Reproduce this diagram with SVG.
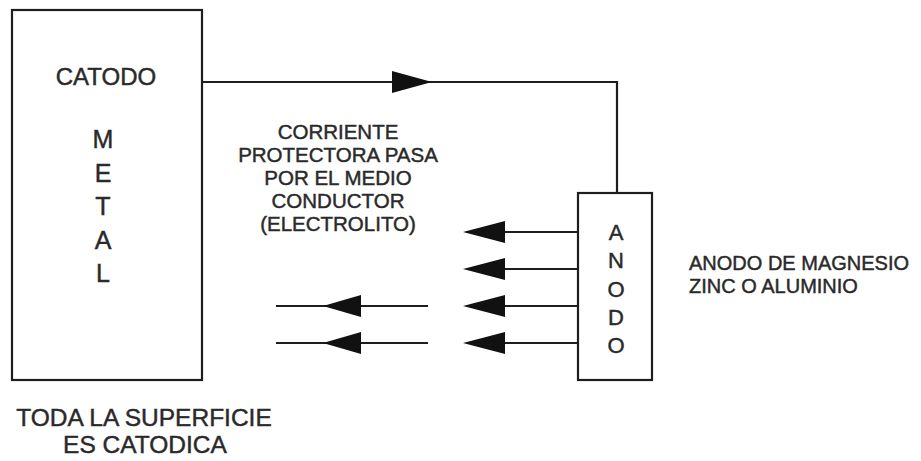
<svg xmlns="http://www.w3.org/2000/svg" width="921" height="461" viewBox="0 0 921 461">
<style>
.box{fill:none;stroke:#1e1e1e;stroke-width:2.2}
.ln{fill:none;stroke:#1e1e1e;stroke-width:2.2}
.ah{fill:#111;stroke:none}
text{font-family:"Liberation Sans",Arial,sans-serif;fill:#2a2a2a;stroke:#2a2a2a;stroke-width:0.45}
.t22{font-size:22px}
.t20{font-size:20px}
.tm{font-size:20.5px}
.t24{font-size:24px}
.t25{font-size:25px}
</style>
<rect width="921" height="461" fill="#ffffff"/>
<g id="catodo">
<rect class="box" x="12" y="10" width="190" height="370"/>
<text class="t24" x="106" y="85" text-anchor="middle">CATODO</text>
<text class="t25" text-anchor="middle"><tspan x="103" y="148">M</tspan><tspan x="103" y="181.5">E</tspan><tspan x="103" y="215">T</tspan><tspan x="103" y="248.5">A</tspan><tspan x="103" y="282">L</tspan></text>
</g>
<g id="anodo">
<rect class="box" x="578" y="193" width="74" height="187"/>
<text class="t22" text-anchor="middle"><tspan x="616" y="240">A</tspan><tspan x="616" y="268">N</tspan><tspan x="616" y="297">O</tspan><tspan x="616" y="325">D</tspan><tspan x="616" y="353">O</tspan></text>
</g>
<g id="label-corriente">
<text class="tm" text-anchor="middle"><tspan x="338" y="139">CORRIENTE</tspan><tspan x="338" y="162">PROTECTORA PASA</tspan><tspan x="338" y="185">POR EL MEDIO</tspan><tspan x="338" y="208">CONDUCTOR</tspan><tspan x="338" y="231">(ELECTROLITO)</tspan></text>
</g>
<g id="label-anodo">
<text class="t20" x="689" y="270">ANODO DE MAGNESIO</text>
<text class="t20" x="689" y="293">ZINC O ALUMINIO</text>
</g>
<g id="label-superficie">
<text class="t24" text-anchor="middle" style="font-size:24.5px"><tspan x="144" y="426">TODA LA SUPERFICIE</tspan><tspan x="145" y="453">ES CATODICA</tspan></text>
</g>
<g id="connectors">
<polyline class="ln" points="202,82 617,82 617,193"/>
<polygon class="ah" points="392,71 432,82 392,93"/>
<line class="ln" x1="470" y1="232" x2="578" y2="232"/>
<line class="ln" x1="470" y1="269" x2="578" y2="269"/>
<line class="ln" x1="470" y1="306" x2="578" y2="306"/>
<line class="ln" x1="470" y1="343" x2="578" y2="343"/>
<polygon class="ah" points="463,232 505,221 505,243"/>
<polygon class="ah" points="463,269 505,258 505,280"/>
<polygon class="ah" points="463,306 505,295 505,317"/>
<polygon class="ah" points="463,343 505,332 505,354"/>
<line class="ln" x1="276" y1="306" x2="428" y2="306"/>
<line class="ln" x1="276" y1="343" x2="428" y2="343"/>
<polygon class="ah" points="323,306 361,295 361,317"/>
<polygon class="ah" points="323,343 361,332 361,354"/>
</g>
</svg>
